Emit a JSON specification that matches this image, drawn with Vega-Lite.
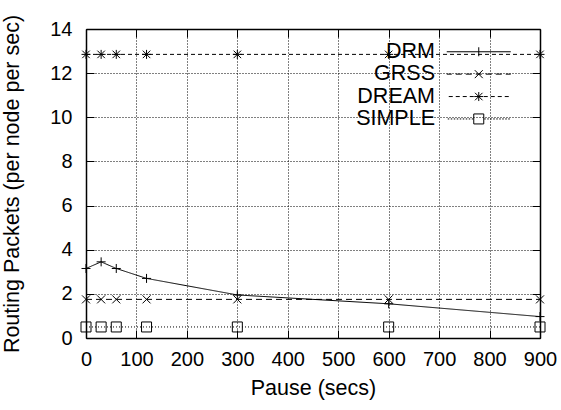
{
  "$schema": "https://vega.github.io/schema/vega-lite/v6.json",
  "width": 454,
  "height": 309,
  "autosize": "none",
  "padding": {"left": 86, "top": 29, "right": 21, "bottom": 72},
  "background": "white",
  "config": {
    "view": {"stroke": null},
    "font": "Liberation Sans",
    "axis": {
      "labelColor": "black",
      "titleColor": "black",
      "tickColor": "black",
      "domainColor": "black",
      "domainWidth": 1.5,
      "tickWidth": 1,
      "tickSize": -8,
      "labelFontSize": 20,
      "titleFontSize": 21.5,
      "titleFontWeight": "normal",
      "labelFlush": false,
      "labelOverlap": false
    }
  },
  "data": {
    "values": [
      {"series": "DRM", "pause": 0, "packets": 3.15},
      {"series": "DRM", "pause": 30, "packets": 3.45},
      {"series": "DRM", "pause": 60, "packets": 3.15},
      {"series": "DRM", "pause": 120, "packets": 2.7},
      {"series": "DRM", "pause": 300, "packets": 1.95},
      {"series": "DRM", "pause": 600, "packets": 1.55},
      {"series": "DRM", "pause": 900, "packets": 0.97},
      {"series": "GRSS", "pause": 0, "packets": 1.75},
      {"series": "GRSS", "pause": 30, "packets": 1.75},
      {"series": "GRSS", "pause": 60, "packets": 1.75},
      {"series": "GRSS", "pause": 120, "packets": 1.75},
      {"series": "GRSS", "pause": 300, "packets": 1.75},
      {"series": "GRSS", "pause": 600, "packets": 1.75},
      {"series": "GRSS", "pause": 900, "packets": 1.75},
      {"series": "DREAM", "pause": 0, "packets": 12.85},
      {"series": "DREAM", "pause": 30, "packets": 12.85},
      {"series": "DREAM", "pause": 60, "packets": 12.85},
      {"series": "DREAM", "pause": 120, "packets": 12.85},
      {"series": "DREAM", "pause": 300, "packets": 12.85},
      {"series": "DREAM", "pause": 600, "packets": 12.85},
      {"series": "DREAM", "pause": 900, "packets": 12.85},
      {"series": "SIMPLE", "pause": 0, "packets": 0.5},
      {"series": "SIMPLE", "pause": 30, "packets": 0.5},
      {"series": "SIMPLE", "pause": 60, "packets": 0.5},
      {"series": "SIMPLE", "pause": 120, "packets": 0.5},
      {"series": "SIMPLE", "pause": 300, "packets": 0.5},
      {"series": "SIMPLE", "pause": 600, "packets": 0.5},
      {"series": "SIMPLE", "pause": 900, "packets": 0.5}
    ]
  },
  "layer": [
    {
      "mark": {"type": "line", "color": "black", "strokeWidth": 1},
      "encoding": {
        "x": {
          "field": "pause", "type": "quantitative",
          "scale": {"domain": [0, 900], "nice": false},
          "axis": {
            "orient": "bottom", "values": [0, 100, 200, 300, 400, 500, 600, 700, 800, 900],
            "grid": false, "labelPadding": 19, "title": "Pause (secs)", "titlePadding": 8, "zindex": 1
          }
        },
        "y": {
          "field": "packets", "type": "quantitative",
          "scale": {"domain": [0, 14], "nice": false},
          "axis": {
            "orient": "left", "values": [0, 2, 4, 6, 8, 10, 12, 14],
            "grid": false, "labelPadding": 22, "title": "Routing Packets (per node per sec)", "titlePadding": 26, "zindex": 1
          }
        },
        "detail": {"field": "series"},
        "strokeDash": {
          "field": "series", "type": "nominal",
          "scale": {"domain": ["DRM", "GRSS", "DREAM", "SIMPLE"], "range": [[1, 0], [6, 4], [4, 3], [1, 2]]},
          "legend": null
        }
      }
    },
    {
      "mark": {"type": "point", "filled": false, "color": "black", "strokeWidth": 1, "size": 100, "opacity": 1},
      "encoding": {
        "x": {"field": "pause", "type": "quantitative", "axis": null},
        "y": {"field": "packets", "type": "quantitative", "axis": null},
        "shape": {
          "field": "series", "type": "nominal",
          "scale": {
            "domain": ["DRM", "GRSS", "DREAM", "SIMPLE"],
            "range": [
              "M-0.9,0H0.9M0,-0.9V0.9",
              "M-0.8,-0.8L0.8,0.8M-0.8,0.8L0.8,-0.8",
              "M-0.9,0H0.9M0,-0.9V0.9M-0.75,-0.75L0.75,0.75M-0.75,0.75L0.75,-0.75",
              "M-1,-1H1V1H-1Z"
            ]
          },
          "legend": null
        }
      }
    },
    {
      "mark": {"type": "point", "filled": false, "color": "black", "strokeWidth": 1, "size": 100, "opacity": 0},
      "encoding": {
        "x": {
          "field": "pause", "type": "quantitative",
          "axis": {"orient": "top", "values": [0, 100, 200, 300, 400, 500, 600, 700, 800, 900], "labels": false, "title": null,
            "grid": true, "gridColor": "black", "gridDash": [1, 2], "gridOpacity": 1, "gridWidth": 1, "zindex": 0}
        },
        "y": {
          "field": "packets", "type": "quantitative",
          "axis": {"orient": "right", "values": [0, 2, 4, 6, 8, 10, 12, 14], "labels": false, "title": null,
            "grid": true, "gridColor": "black", "gridDash": [1, 2], "gridOpacity": 1, "gridWidth": 1, "zindex": 0}
        },
        "shape": {
          "field": "series", "type": "nominal",
          "scale": {
            "domain": ["DRM", "GRSS", "DREAM", "SIMPLE"],
            "range": [
              "M-6.4,0H6.4M0,-0.9V0.9",
              "M-6.4,0H-5.4M-4.6,0H-3.4M-2.6,0H-1.4M-0.6,0H0.6M1.4,0H2.6M3.4,0H4.6M5.4,0H6.4M-0.8,-0.8L0.8,0.8M-0.8,0.8L0.8,-0.8",
              "M-6,0H-5.2M-4.6,0H-3.8M-3.2,0H-2.4M-1.8,0H-1M-0.4,0H0.4M1,0H1.8M2.4,0H3.2M3.8,0H4.6M5.2,0H6M-0.9,0H0.9M0,-0.9V0.9M-0.75,-0.75L0.75,0.75M-0.75,0.75L0.75,-0.75",
              "M-6.2,0H-5.9M-5.6,0H-5.3M-5,0H-4.7M-4.4,0H-4.1M-3.8,0H-3.5M-3.2,0H-2.9M-2.6,0H-2.3M-2,0H-1.7M-1.4,0H-1.1M1.1,0H1.4M1.7,0H2M2.3,0H2.6M2.9,0H3.2M3.5,0H3.8M4.1,0H4.4M4.7,0H5M5.3,0H5.6M5.9,0H6.2M-1,-1H1V1H-1Z"
            ]
          },
          "legend": {
            "orient": "none", "legendX": 254, "legendY": 10,
            "title": null, "symbolSize": 100, "symbolOpacity": 1,
            "symbolStrokeColor": "black", "symbolStrokeWidth": 1, "symbolFillColor": "transparent",
            "labelAlign": "right", "labelOffset": -54.5, "symbolOffset": 126,
            "labelFontSize": 21.5, "labelColor": "black", "labelFont": "Liberation Sans",
            "rowPadding": -0.6, "padding": 2
          }
        }
      }
    }
  ],
  "resolve": {"scale": {"shape": "independent"}}
}
